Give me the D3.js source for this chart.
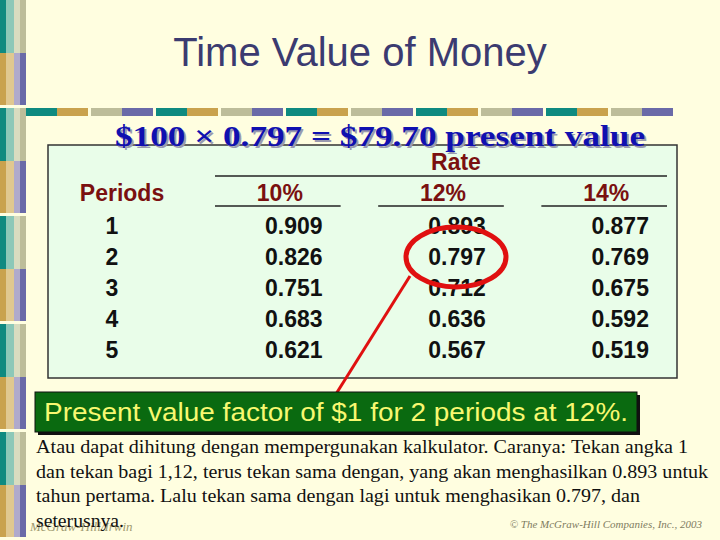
<!DOCTYPE html>
<html><head><meta charset="utf-8">
<script src="https://cdn.jsdelivr.net/npm/d3@7"></script>
<style>body{margin:0;background:#fffee0}</style></head>
<body><div id="slide"></div>
<script>
const periods = [1, 2, 3, 4, 5];
const rates = ['10%', '12%', '14%'];
const factors = [
  [0.909, 0.826, 0.751, 0.683, 0.621],
  [0.893, 0.797, 0.712, 0.636, 0.567],
  [0.877, 0.769, 0.675, 0.592, 0.519],
];
const stripeColors = ['#0e8a80', '#c9a24e', '#bdbd9a', '#6a6aa8'];
const bodyLines = [
  'Atau dapat dihitung dengan mempergunakan kalkulator. Caranya: Tekan angka 1',
  'dan tekan bagi 1,12, terus tekan sama dengan, yang akan menghasilkan 0.893 untuk',
  'tahun pertama. Lalu tekan sama dengan lagi untuk menghasikan 0.797, dan',
  'seterusnya.',
];
const bodyWidths = [652, 672, 604, 88];

const W = 720, H = 540;
const svg = d3.select('#slide').append('svg').attr('width', W).attr('height', H);
svg.append('rect').attr('width', W).attr('height', H).attr('fill', '#fffee0');

// left border blocks
const blockY = d3.range(0, 540, 108);
const bcols = [
  { x: 0, w: 6, top: '#0e8a80', bot: '#c9a24e' },
  { x: 6, w: 8, top: '#8cc8b8', bot: '#e0c890' },
  { x: 14, w: 6, top: '#d8dcc0', bot: '#b0aacc' },
  { x: 20, w: 6, top: '#bdbd9a', bot: '#6a6aa8' },
];
blockY.forEach((y) => {
  bcols.forEach((c) => {
    svg.append('rect').attr('x', c.x).attr('y', y).attr('width', c.w).attr('height', 53).attr('fill', c.top);
    svg.append('rect').attr('x', c.x).attr('y', y + 53).attr('width', c.w).attr('height', 52).attr('fill', c.bot);
  });
});

// top stripe
d3.range(0, 20).forEach((i) => {
  const x = 26 + Math.floor(i / 2) * 65 + (i % 2) * 31;
  if (x > 692) return;
  svg.append('rect').attr('x', x).attr('y', 108).attr('width', Math.min(31, 692 - x)).attr('height', 8)
    .attr('fill', stripeColors[i % 4]);
});

svg.append('text').attr('x', 360).attr('y', 66).attr('text-anchor', 'middle')
  .style('font', '40px "Liberation Sans", Arial, sans-serif').attr('fill', '#3b3b70').text('Time Value of Money');

// table box
svg.append('rect').attr('x', 48).attr('y', 145).attr('width', 629).attr('height', 233)
  .attr('fill', '#e9fde9').attr('stroke', '#333').attr('stroke-width', 1.5);

// title with shadow
const eq = '$100 × 0.797  =  $79.70 present value';
[['#9a9ab0', 2], ['#1010b0', 0]].forEach(([c, o]) => {
  svg.append('text').attr('x', 115 + o).attr('y', 146 + o)
    .attr('textLength', 530).attr('lengthAdjust', 'spacingAndGlyphs')
    .style('font', 'bold 30px "Liberation Serif", "Times New Roman", serif').attr('fill', c).text(eq);
});

const colX = d3.scaleBand().domain(rates).range([215, 667]).paddingInner(0.23);
const rowY = d3.scalePoint().domain(periods).range([234, 358]);
const hfont = 'bold 23px "Liberation Sans", Arial, sans-serif';
const red = '#7a1010';

svg.append('text').attr('x', 456).attr('y', 170).attr('text-anchor', 'middle').style('font', hfont).attr('fill', red).text('Rate');
svg.append('line').attr('x1', 215).attr('x2', 667).attr('y1', 176).attr('y2', 176).attr('stroke', '#222').attr('stroke-width', 1.5);
svg.append('text').attr('x', 122).attr('y', 201).attr('text-anchor', 'middle').style('font', hfont).attr('fill', red).text('Periods');
rates.forEach((r) => {
  const cx = colX(r) + colX.bandwidth() / 2;
  svg.append('text').attr('x', cx + 2).attr('y', 201).attr('text-anchor', 'middle').style('font', hfont).attr('fill', red).text(r);
  svg.append('line').attr('x1', colX(r)).attr('x2', colX(r) + colX.bandwidth()).attr('y1', 206).attr('y2', 206)
    .attr('stroke', '#222').attr('stroke-width', 1.5);
});
periods.forEach((p, i) => {
  svg.append('text').attr('x', 112).attr('y', rowY(p)).attr('text-anchor', 'middle').style('font', hfont).attr('fill', '#111').text(p);
  rates.forEach((r, j) => {
    svg.append('text').attr('x', colX(r) + colX.bandwidth() / 2 + 16).attr('y', rowY(p)).attr('text-anchor', 'middle')
      .style('font', hfont).attr('fill', '#111').text(factors[j][i].toFixed(3));
  });
});

// highlight ellipse and arrow
const hx = colX('12%') + colX.bandwidth() / 2 + 15, hy = rowY(2) - 8;
svg.append('ellipse').attr('cx', hx).attr('cy', hy).attr('rx', 50).attr('ry', 30)
  .attr('fill', 'none').attr('stroke', '#e01010').attr('stroke-width', 5);
svg.append('line').attr('x1', 336).attr('y1', 394).attr('x2', 410).attr('y2', 276)
  .attr('stroke', '#e01010').attr('stroke-width', 3);

// green callout
svg.append('rect').attr('x', 38).attr('y', 395).attr('width', 602).attr('height', 40).attr('fill', '#111');
svg.append('rect').attr('x', 35).attr('y', 392).attr('width', 602).attr('height', 40)
  .attr('fill', '#0a6a10').attr('stroke', '#111').attr('stroke-width', 1);
svg.append('text').attr('x', 44).attr('y', 421).attr('textLength', 584).attr('lengthAdjust', 'spacingAndGlyphs')
  .style('font', '26px "Liberation Sans", Arial, sans-serif')
  .attr('fill', '#f8f870').text('Present value factor of $1 for 2 periods at 12%.');

// footer
svg.append('text').attr('x', 30).attr('y', 531).style('font', 'italic 13px "Liberation Serif", serif')
  .attr('fill', '#a09a70').text('McGraw-Hill/Irwin');
svg.append('text').attr('x', 702).attr('y', 528).attr('text-anchor', 'end').style('font', 'italic 11px "Liberation Serif", serif')
  .attr('fill', '#807c60').text('© The McGraw-Hill Companies, Inc., 2003');

bodyLines.forEach((t, i) => {
  svg.append('text').attr('x', 36).attr('y', 453 + i * 24.5)
    .attr('textLength', bodyWidths[i]).attr('lengthAdjust', 'spacingAndGlyphs')
    .style('font', '18px "Liberation Serif", "Times New Roman", serif')
    .attr('fill', '#111').text(t);
});
</script></body></html>
